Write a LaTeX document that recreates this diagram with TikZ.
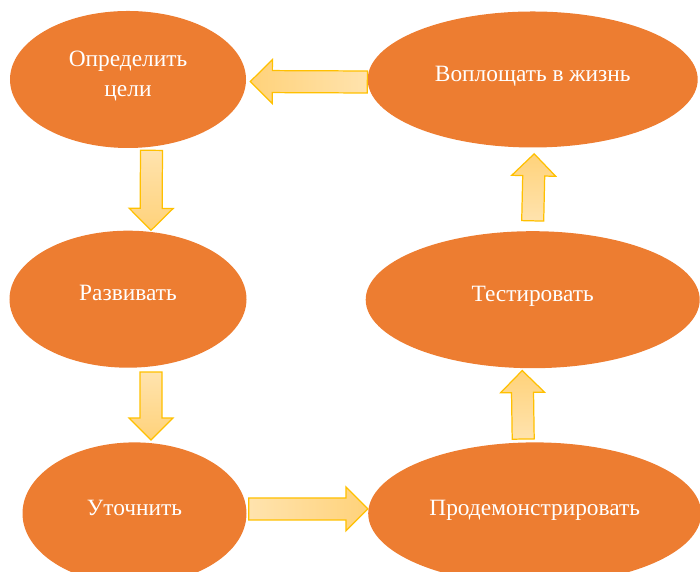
\documentclass[tikz,border=0pt]{standalone}
\usepackage{fontspec}
\setmainfont{Liberation Serif}
\usepackage{tikz}
\usetikzlibrary{positioning, calc, shapes.geometric}
\definecolor{cycOrange}{HTML}{ED7D31}
\definecolor{arrEdge}{HTML}{FFC000}
\definecolor{arrHead}{HTML}{FFD27A}
\definecolor{arrTail}{HTML}{FFE3AE}

\begin{document}
\begin{tikzpicture}[
    phase/.style={ellipse, fill=cycOrange, text=white, inner sep=0pt, text depth=0.24cm,
      align=center, font=\fontsize{13.3}{17}\selectfont},
    barr/.style={draw=arrEdge, line width=0.7pt, top color=arrTail, bottom color=arrHead,
      to path={let \p1=($(\tikztotarget)-(\tikztostart)$),
        \n1={atan2(\y1,\x1)}, \n2={veclen(\x1,\y1)-12.5} in
        ($(\tikztostart)+(\n1+90:0.22)$)
        -- ($(\tikztostart)+(\n1:\n2)+(\n1+90:0.22)$)
        -- ($(\tikztostart)+(\n1:\n2)+(\n1+90:0.44)$)
        -- (\tikztotarget)
        -- ($(\tikztostart)+(\n1:\n2)+(\n1-90:0.44)$)
        -- ($(\tikztostart)+(\n1:\n2)+(\n1-90:0.22)$)
        -- ($(\tikztostart)+(\n1-90:0.22)$) -- cycle}}]
    \useasboundingbox (0,0) rectangle (14,11.44);
    \clip (0,0) rectangle (14,11.44);
    \node[phase, minimum width=4.72cm, minimum height=2.74cm] (goals) at (2.56,9.85) {Определить\\цели};
    \node[phase, minimum width=6.6cm, minimum height=2.72cm, right=2.42cm of goals] (embody) {Воплощать в жизнь};
    \node[phase, minimum width=4.74cm, minimum height=2.74cm, below=1.64cm of goals] (develop) {Развивать};
    \node[phase, minimum width=6.68cm, minimum height=2.74cm, below=1.66cm of embody] (test) {Тестировать};
    \node[phase, minimum width=4.48cm, minimum height=2.84cm, below=1.48cm of develop, xshift=0.13cm] (refine) {Уточнить};
    \node[phase, minimum width=6.66cm, minimum height=2.84cm, right=2.42cm of refine] (demo) {Продемонстрировать};
    \draw[barr, shading angle=-90] ([yshift=-0.05cm]embody.west) to ([xshift=0.08cm,yshift=-0.04cm]goals.east);
    \draw[barr] ([xshift=0.47cm,yshift=-0.04cm]goals.south) to ([xshift=0.46cm]develop.north);
    \draw[barr] ([xshift=0.46cm,yshift=-0.08cm]develop.south) to ([xshift=0.33cm,yshift=0.04cm]refine.north);
    \draw[barr, shading angle=90] ([xshift=0.04cm,yshift=0.09cm]refine.east) to ([yshift=0.09cm]demo.west);
    \draw[barr, shading angle=180] ([xshift=-0.23cm,yshift=0.06cm]demo.north) to ([xshift=-0.21cm,yshift=-0.04cm]test.south);
    \draw[barr, shading angle=180] ([yshift=0.2cm]test.north) to ([xshift=0.03cm,yshift=-0.12cm]embody.south);
\end{tikzpicture}
\end{document}
